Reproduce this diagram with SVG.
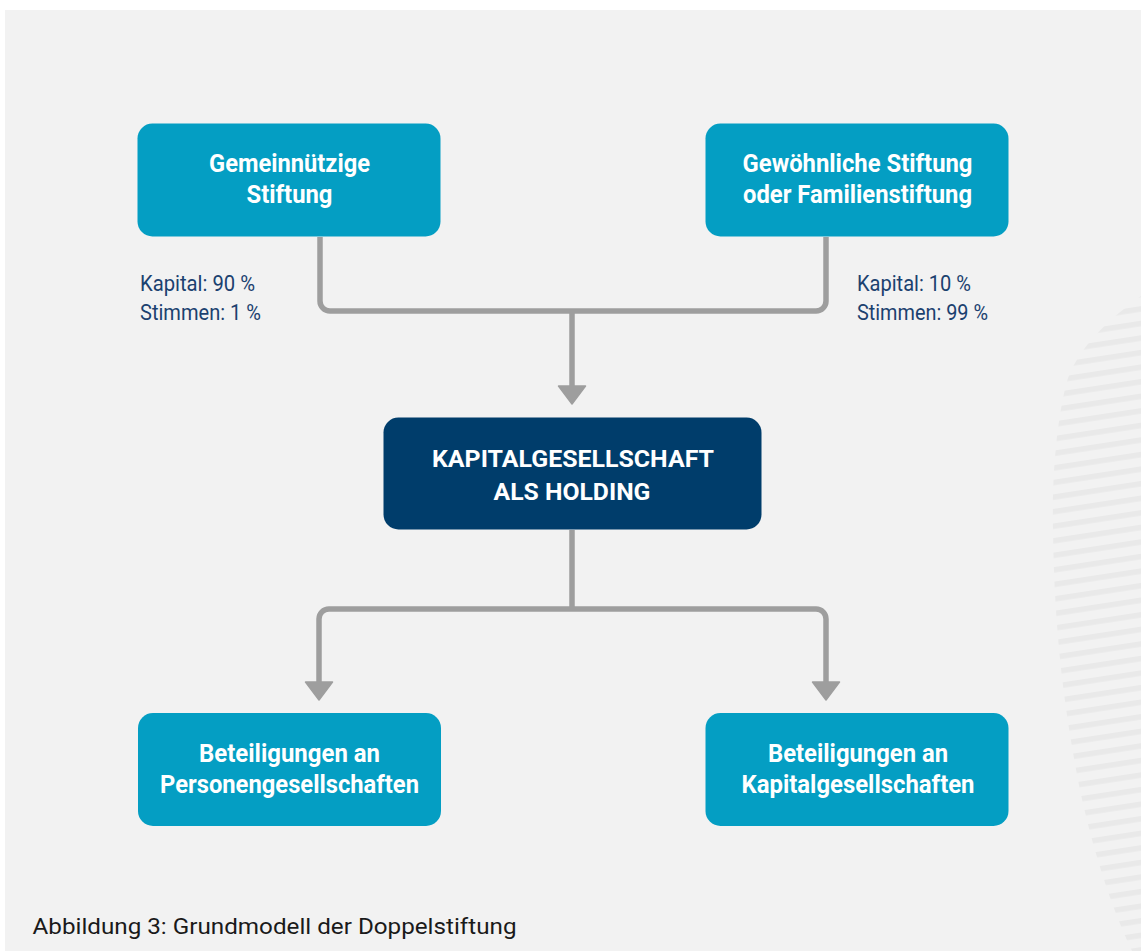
<svg xmlns="http://www.w3.org/2000/svg" width="1141" height="951" viewBox="0 0 1141 951">
<defs>
<style>
.node{fill:#049ec3}
.hold{fill:#003d6b}
.nt{font-family:Roboto,"Liberation Sans",sans-serif;font-weight:bold;font-size:26.5px;fill:#ffffff;text-anchor:middle}
.ht{font-family:Roboto,"Liberation Sans",sans-serif;font-weight:bold;font-size:24.5px;fill:#ffffff;text-anchor:middle}
.lab{font-family:Roboto,"Liberation Sans",sans-serif;font-size:22.5px;fill:#1b416f}
.cap{font-family:Roboto,"Liberation Sans",sans-serif;font-size:22.5px;fill:#1a1a1a}
.con{fill:none;stroke:#9e9e9e;stroke-width:5.5}
</style>
<pattern id="stripes" patternUnits="userSpaceOnUse" width="400" height="14.4" patternTransform="rotate(-8.7)">
<rect x="0" y="0" width="400" height="5.5" fill="#e9e9e9"/>
</pattern>
<marker id="arr" markerUnits="userSpaceOnUse" viewBox="-2 -16 22 32" markerWidth="22" markerHeight="32" refX="0" refY="0" orient="auto">
<path d="M0,-13.5 L18,0 L0,13.5 Z" fill="#9e9e9e" stroke="#9e9e9e" stroke-width="1.5" stroke-linejoin="round"/>
</marker>
</defs>
<rect x="0" y="0" width="1141" height="951" fill="#ffffff"/>
<rect x="5" y="10" width="1136" height="941" fill="#f2f2f2"/>
<path d="M1141,296 C1110,318 1075,350 1066,385 C1056,425 1052,480 1053,530 C1054,620 1062,700 1080,790 C1095,860 1115,915 1132,951 L1141,951 Z" fill="url(#stripes)"/>

<g id="connectors">
<path class="con" d="M320,237 V301 A10,10 0 0 0 330,311 H816 A10,10 0 0 0 826,301 V237"/>
<path class="con" d="M572,311 V386" marker-end="url(#arr)"/>
<path class="con" d="M572,530 V609"/>
<path class="con" d="M572,609 H329 A10,10 0 0 0 319,619 V682" marker-end="url(#arr)"/>
<path class="con" d="M572,609 H816 A10,10 0 0 1 826,619 V682" marker-end="url(#arr)"/>
</g>

<g id="node-gemeinnuetzig">
<rect class="node" x="137.5" y="123.5" width="303" height="113" rx="15"/>
<text class="nt" x="289.5" y="172" textLength="161" lengthAdjust="spacingAndGlyphs">Gemeinnützige</text>
<text class="nt" x="289.5" y="203" textLength="86" lengthAdjust="spacingAndGlyphs">Stiftung</text>
</g>

<g id="node-familienstiftung">
<rect class="node" x="705.5" y="123.5" width="303" height="113" rx="15"/>
<text class="nt" x="857.5" y="172" textLength="230" lengthAdjust="spacingAndGlyphs">Gewöhnliche Stiftung</text>
<text class="nt" x="857.5" y="203" textLength="229" lengthAdjust="spacingAndGlyphs">oder Familienstiftung</text>
</g>

<g id="labels-left">
<text class="lab" x="140" y="291" textLength="115" lengthAdjust="spacingAndGlyphs">Kapital: 90 %</text>
<text class="lab" x="140" y="320" textLength="121" lengthAdjust="spacingAndGlyphs">Stimmen: 1 %</text>
</g>
<g id="labels-right">
<text class="lab" x="857" y="291" textLength="114" lengthAdjust="spacingAndGlyphs">Kapital: 10 %</text>
<text class="lab" x="857" y="320" textLength="131" lengthAdjust="spacingAndGlyphs">Stimmen: 99 %</text>
</g>

<g id="node-holding">
<rect class="hold" x="383.5" y="417.5" width="378" height="112" rx="15"/>
<text class="ht" x="573" y="467" textLength="282" lengthAdjust="spacingAndGlyphs">KAPITALGESELLSCHAFT</text>
<text class="ht" x="572" y="500" textLength="157" lengthAdjust="spacingAndGlyphs">ALS HOLDING</text>
</g>

<g id="node-personengesellschaften">
<rect class="node" x="138" y="713" width="303" height="113" rx="15"/>
<text class="nt" x="289.5" y="762" textLength="181" lengthAdjust="spacingAndGlyphs">Beteiligungen an</text>
<text class="nt" x="289.5" y="793" textLength="259" lengthAdjust="spacingAndGlyphs">Personengesellschaften</text>
</g>

<g id="node-kapitalgesellschaften">
<rect class="node" x="705.5" y="713" width="303" height="113" rx="15"/>
<text class="nt" x="858" y="762" textLength="180" lengthAdjust="spacingAndGlyphs">Beteiligungen an</text>
<text class="nt" x="858" y="793" textLength="233" lengthAdjust="spacingAndGlyphs">Kapitalgesellschaften</text>
</g>

<text class="cap" x="32.5" y="934" textLength="484" lengthAdjust="spacingAndGlyphs">Abbildung 3: Grundmodell der Doppelstiftung</text>
</svg>
